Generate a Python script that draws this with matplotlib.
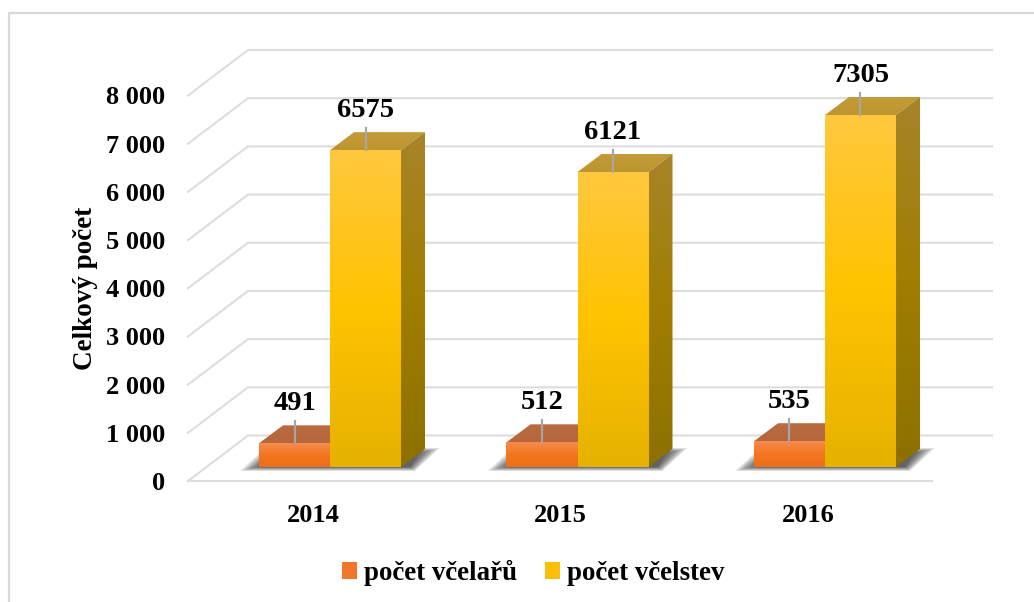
import numpy as np
import matplotlib
matplotlib.use('Agg')
import matplotlib.pyplot as plt
from matplotlib.colors import LinearSegmentedColormap
from matplotlib.lines import Line2D
from matplotlib.patches import Patch, Polygon

years = ['2014', '2015', '2016']
beekeepers = [491, 512, 535]
colonies = [6575, 6121, 7305]
y_ticks = [0, 1000, 2000, 3000, 4000, 5000, 6000, 7000, 8000]
y_tick_labels = ['0', '1 000', '2 000', '3 000', '4 000', '5 000', '6 000', '7 000', '8 000']

W, H = 1034, 602
plt.rcParams['font.family'] = ['Liberation Serif', 'DejaVu Serif']
plt.rcParams['font.weight'] = 'bold'
plt.rcParams['font.size'] = 19

fig = plt.figure(figsize=(W / 100, H / 100), dpi=100)
ax = fig.add_axes([188 / W, 1 - 481 / H, 744 / W, 385.5 / H])

# one category is 247.5 px wide, x=0 is where the two bars of 2014 touch
px_x = 1 / 247.5
px_y = 8000 / 385.5
xlim = ((188 - 330) * px_x, (932 - 330) * px_x)
bar_w = 71 * px_x
floor = 14 * px_y
depth_x, depth_y = 24 * px_x, 18 * px_y
wall_x, wall_y = 60 * px_x, 45.5 * px_y

ORANGE = {'front': ['#F58C50', '#F2771F', '#EE6C1A'], 'top': ['#BA6C40', '#B5663A'],
          'side': ['#A8562A', '#94480F']}
YELLOW = {'front': ['#FFC83F', '#FFC300', '#E6B200'], 'top': ['#C29B38', '#BE9630'],
          'side': ['#A8842A', '#A07E00', '#8C7000']}


def gradient_fill(corners, colors):
    corners = np.array(corners)
    cmap = LinearSegmentedColormap.from_list('g', colors)
    extent = (corners[:, 0].min(), corners[:, 0].max(), corners[:, 1].min(), corners[:, 1].max())
    im = ax.imshow(np.linspace(0, 1, 256).reshape(-1, 1), cmap=cmap, extent=extent, origin='upper',
                   aspect='auto', zorder=3)
    im.set_clip_path(Polygon(corners, transform=ax.transData))


def draw_shadow(x0, x1):
    # soft edge: stacked see-through shapes that shrink towards the bars
    for d in np.arange(0, 14, 1.0):
        dy = min(d * 0.4, 3.5)
        pts = [(x0 + (-19 + d * 1.6) * px_x, floor - (4 - dy) * px_y),
               (x1 + (14 - d * 0.4) * px_x, floor - (4 - dy) * px_y),
               (x1 + (39 - d * 1.6) * px_x, floor + (19 - dy) * px_y),
               (x0 + (6 + d) * px_x, floor + (19 - dy) * px_y)]
        ax.add_patch(Polygon(pts, facecolor='#303030', edgecolor='none', alpha=0.09,
                             zorder=2, clip_on=False))


def draw_bar_3d(rect, style):
    x0, x1 = rect.get_x(), rect.get_x() + rect.get_width()
    y0, y1 = rect.get_y(), rect.get_y() + rect.get_height()
    gradient_fill([(x0, y0), (x1, y0), (x1, y1), (x0, y1)], style['front'])
    gradient_fill([(x0, y1), (x1, y1), (x1 + depth_x, y1 + depth_y), (x0 + depth_x, y1 + depth_y)],
                  style['top'])
    gradient_fill([(x1, y0), (x1 + depth_x, y0 + depth_y), (x1 + depth_x, y1 + depth_y), (x1, y1)],
                  style['side'])


def label_bar(rect, value):
    xc = rect.get_x() + rect.get_width() / 2
    top = rect.get_y() + rect.get_height()
    ax.plot([xc, xc], [top, top + 22 * px_y], color='#A6A6A6', lw=1.6, zorder=5, clip_on=False)
    ax.annotate(str(value), (xc, top), xytext=(0, 24), textcoords='offset points', fontsize=20.5,
                ha='center', va='baseline', zorder=6, annotation_clip=False)


# walls and floor
for v in y_ticks:
    ax.plot([xlim[0], xlim[0] + wall_x, xlim[1] + wall_x], [v, v + wall_y, v + wall_y],
            color='#DDDDDD', lw=1.5, zorder=1, clip_on=False)
ax.plot(xlim, [0, 0], color='#DDDDDD', lw=1.5, zorder=1, clip_on=False)

x = np.arange(len(years))
for xi in x:
    draw_shadow(xi - bar_w, xi + bar_w)

orange_bars = ax.bar(x - bar_w, beekeepers, width=bar_w, bottom=floor, align='edge',
                     color='#F2771F', zorder=3, clip_on=False)
yellow_bars = ax.bar(x, colonies, width=bar_w, bottom=floor, align='edge',
                     color='#FFC000', zorder=3, clip_on=False)
for rect in orange_bars:
    draw_bar_3d(rect, ORANGE)
for rect in yellow_bars:
    draw_bar_3d(rect, YELLOW)
for rect, value in zip(orange_bars, beekeepers):
    label_bar(rect, value)
for rect, value in zip(yellow_bars, colonies):
    label_bar(rect, value)

ax.set_xlim(*xlim)
ax.set_ylim(0, 8000)
ax.patch.set_visible(False)
for spine in ax.spines.values():
    spine.set_visible(False)

ax.set_yticks(y_ticks, y_tick_labels)
ax.set_xticks(x - 0.068, years)
ax.tick_params(axis='y', length=0, pad=16.5)
ax.tick_params(axis='x', length=0, pad=16.5)
ax.set_ylabel('Celkový počet', fontsize=19.5, fontweight='bold')
ax.yaxis.set_label_coords((98 - 188) / 744, 0.5)

handles = [Patch(facecolor='#F2772B', label='počet včelařů'),
           Patch(facecolor='#FBBF0A', label='počet včelstev')]
fig.legend(handles=handles, loc='center', bbox_to_anchor=(533 / W, 1 - 573 / H), ncol=2,
           frameon=False, handlelength=0.55, handleheight=0.55, handletextpad=0.25,
           columnspacing=1.05, borderpad=0, fontsize=19.4)

# chart frame, cut off by the picture on the right and bottom
fig.add_artist(Line2D([9 / W, 9 / W, 1], [0, 1 - 13 / H, 1 - 13 / H], color='#D9D9D9', lw=1.6))

fig.savefig('out.png', dpi=100)
